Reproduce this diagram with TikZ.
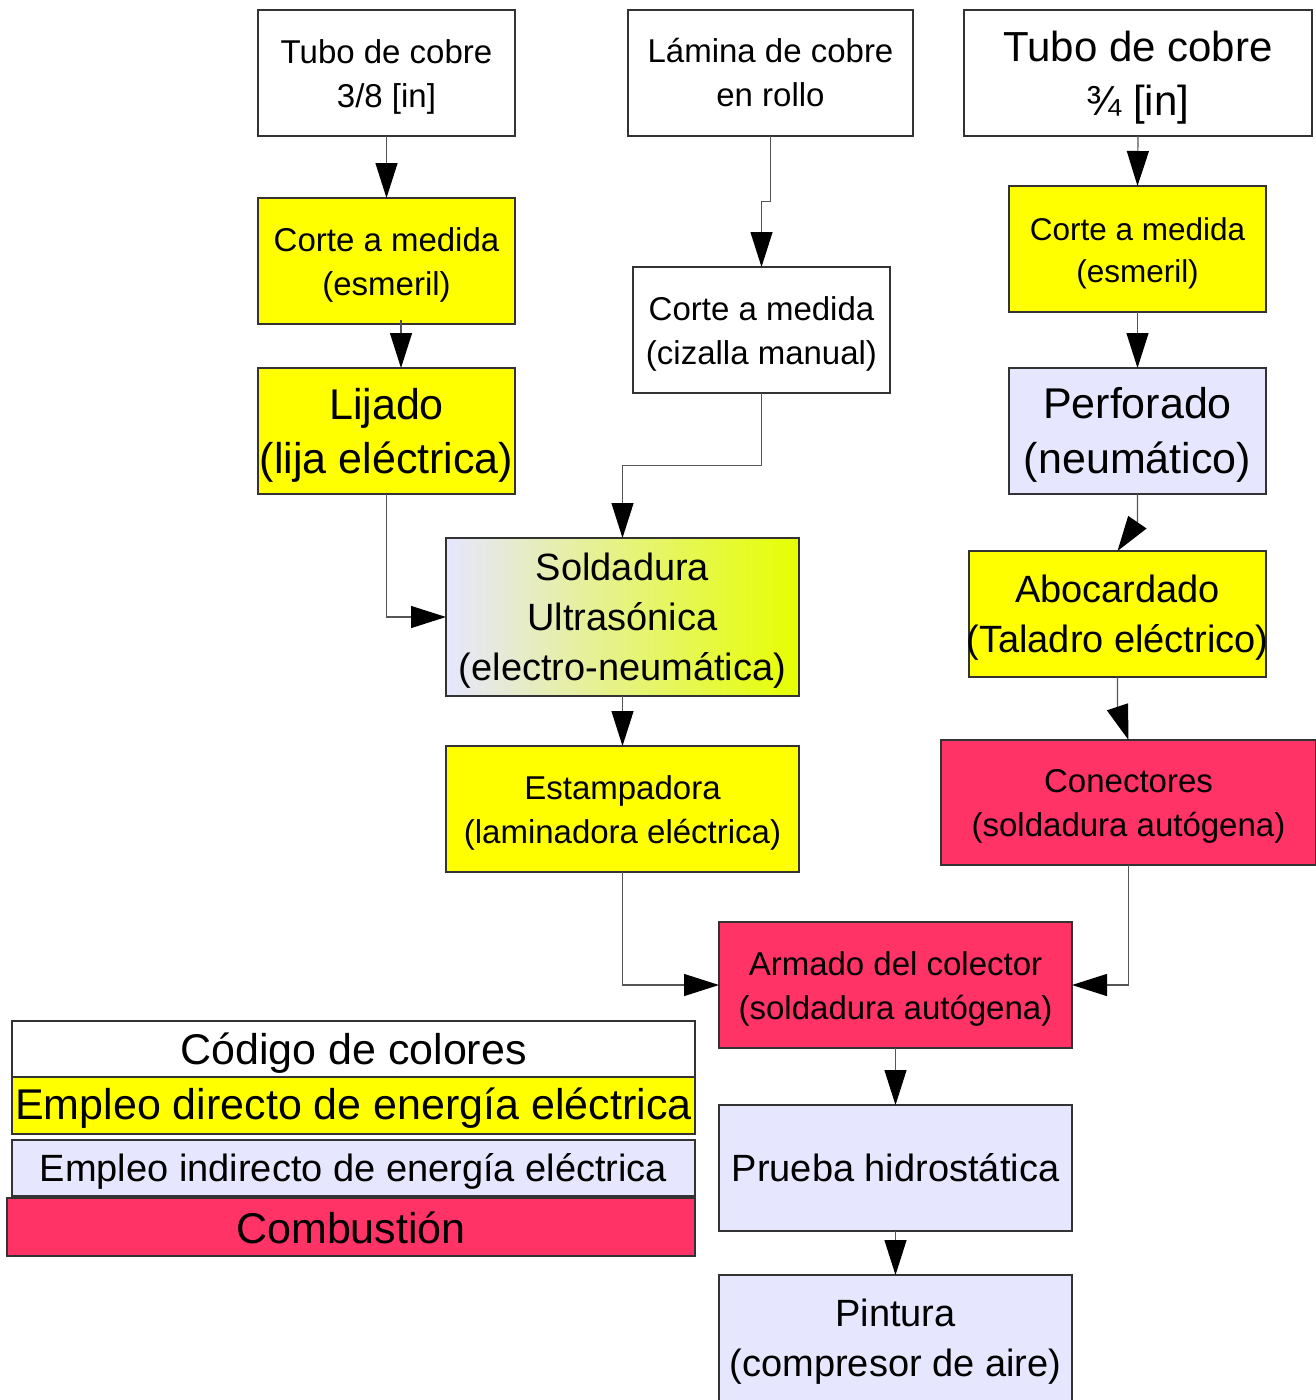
\documentclass[tikz,border=0pt]{standalone}
\usepackage{fontspec}
\setmainfont{Liberation Sans}
\usetikzlibrary{arrows.meta,calc}
\definecolor{yel}{HTML}{FFFF00}
\definecolor{lav}{HTML}{E6E6FF}
\definecolor{crim}{HTML}{FF3366}
\definecolor{limeg}{HTML}{E6FF00}
\definecolor{edgec}{HTML}{333333}
\definecolor{wirec}{HTML}{555555}
\newcommand{\fsz}[2]{\fontsize{#1}{#2}\selectfont}
\begin{document}
\begin{tikzpicture}[x=1pt,y=-1pt,
  box/.style={draw=edgec, line width=1.2pt, inner sep=0pt, outer sep=0pt},
  tx/.style={align=center, inner sep=0pt, text=black, yshift=-4pt},
  arr/.style={draw=wirec, line width=1.2pt, -{Triangle[length=35pt,width=22pt,color=black,fill=black]}},
  sm/.style={font=\fsz{33}{44}},
  md/.style={font=\fsz{38}{50}},
  lg/.style={font=\fsz{43}{54}},
]
\useasboundingbox (0,0) rectangle (1315,1400);

% first column
\node[box, fill=white, minimum width=257pt, minimum height=126pt,
  label={[tx,sm]center:{Tubo de cobre\\3/8 [in]}}] (t1) at (386.5,73) {};
\node[box, fill=yel, minimum width=257pt, minimum height=126pt,
  label={[tx,sm]center:{Corte a medida\\(esmeril)}}] (c1) at (386.5,261) {};
\node[box, fill=yel, minimum width=257pt, minimum height=126pt,
  label={[tx,lg]center:{Lijado\\(lija eléctrica)}}] (l1) at (386.5,431) {};

% second column
\node[box, fill=white, minimum width=285pt, minimum height=126pt,
  label={[tx,sm,yshift=4pt]center:{Lámina de cobre\\en rollo}}] (t2) at (770.5,73) {};
\node[box, fill=white, minimum width=257pt, minimum height=126pt,
  label={[tx,sm]center:{Corte a medida\\(cizalla manual)}}] (c2) at (761.5,330) {};
\node[box, left color=lav, right color=limeg, minimum width=353pt, minimum height=158pt,
  label={[tx,md]center:{Soldadura\\Ultrasónica\\(electro-neumática)}}] (su) at (622.5,617) {};
\node[box, fill=yel, minimum width=353pt, minimum height=126pt,
  label={[tx,sm]center:{Estampadora\\(laminadora eléctrica)}}] (es) at (622.5,809) {};

% third column
\node[box, fill=white, minimum width=348pt, minimum height=126pt,
  label={[tx,font=\fsz{42}{54},yshift=-1pt]center:{Tubo de cobre\\¾ [in]}}] (t3) at (1138,73) {};
\node[box, fill=yel, minimum width=257pt, minimum height=126pt,
  label={[tx,font=\fsz{31.5}{42}]center:{Corte a medida\\(esmeril)}}] (c3) at (1137.5,249) {};
\node[box, fill=lav, minimum width=257pt, minimum height=126pt,
  label={[tx,font=\fsz{43}{55}]center:{Perforado\\(neumático)}}] (pf) at (1137.5,431) {};
\node[box, fill=yel, minimum width=297pt, minimum height=126pt,
  label={[tx,md]center:{Abocardado\\(Taladro eléctrico)}}] (ab) at (1117.5,614) {};
\node[box, fill=crim, minimum width=375pt, minimum height=125pt,
  label={[tx,sm]center:{Conectores\\(soldadura autógena)}}] (co) at (1128.5,802.5) {};

% assembly
\node[box, fill=crim, minimum width=353pt, minimum height=126pt,
  label={[tx,sm]center:{Armado del colector\\(soldadura autógena)}}] (ar) at (895.5,985) {};
\node[box, fill=lav, minimum width=353pt, minimum height=126pt,
  label={[tx,md,yshift=4pt]center:{Prueba hidrostática}}] (pr) at (895.5,1168) {};
\node[box, fill=lav, minimum width=353pt, minimum height=126pt,
  label={[tx,md]center:{Pintura\\(compresor de aire)}}] (pi) at (895.5,1338) {};

% legend
\node[box, fill=white, minimum width=683pt, minimum height=56pt,
  label={[tx,lg]center:{Código de colores}}] (lg0) at (353.5,1049) {};
\node[box, fill=yel, minimum width=683pt, minimum height=57pt,
  label={[tx,lg,yshift=1pt]center:{Empleo directo de energía eléctrica}}] (lg1) at (353.5,1105.5) {};
\node[box, fill=lav, minimum width=683pt, minimum height=56pt,
  label={[tx,md,yshift=1pt]center:{Empleo indirecto de energía eléctrica}}] (lg2) at (353.5,1168) {};
\node[box, fill=crim, minimum width=688pt, minimum height=58pt,
  label={[tx,lg,yshift=3pt]center:{Combustión}}] (lg3) at (351,1227) {};

% connectors
\draw[arr] (t1.south) -- (c1.north);
\draw[arr] ([xshift=14.5pt,yshift=4pt]c1.south) -- ([xshift=14.5pt]l1.north);
\draw[arr] (t2.south) |- ($(t2.south)!0.5!(c2.north)$) -| (c2.north);
\draw[arr] (c2.south) |- ($(c2.south)!0.5!(su.north)$) -| (su.north);
\draw[arr] (l1.south) |- (su.west);
\draw[arr] (su.south) -- (es.north);
\draw[arr] (es.south) |- (ar.west);
\draw[arr] (co.south) |- (ar.east);
\draw[arr] (ar.south) -- (pr.north);
\draw[arr] (pr.south) -- (pi.north);
\draw[arr] (t3.south) -- (c3.north);
\draw[arr] (c3.south) -- (pf.north);
\draw[arr] (pf.south) -- ++(0,28) -- (ab.north);
\draw[arr] (ab.south) -- ++(0,30) -- (co.north);
\end{tikzpicture}
\end{document}
